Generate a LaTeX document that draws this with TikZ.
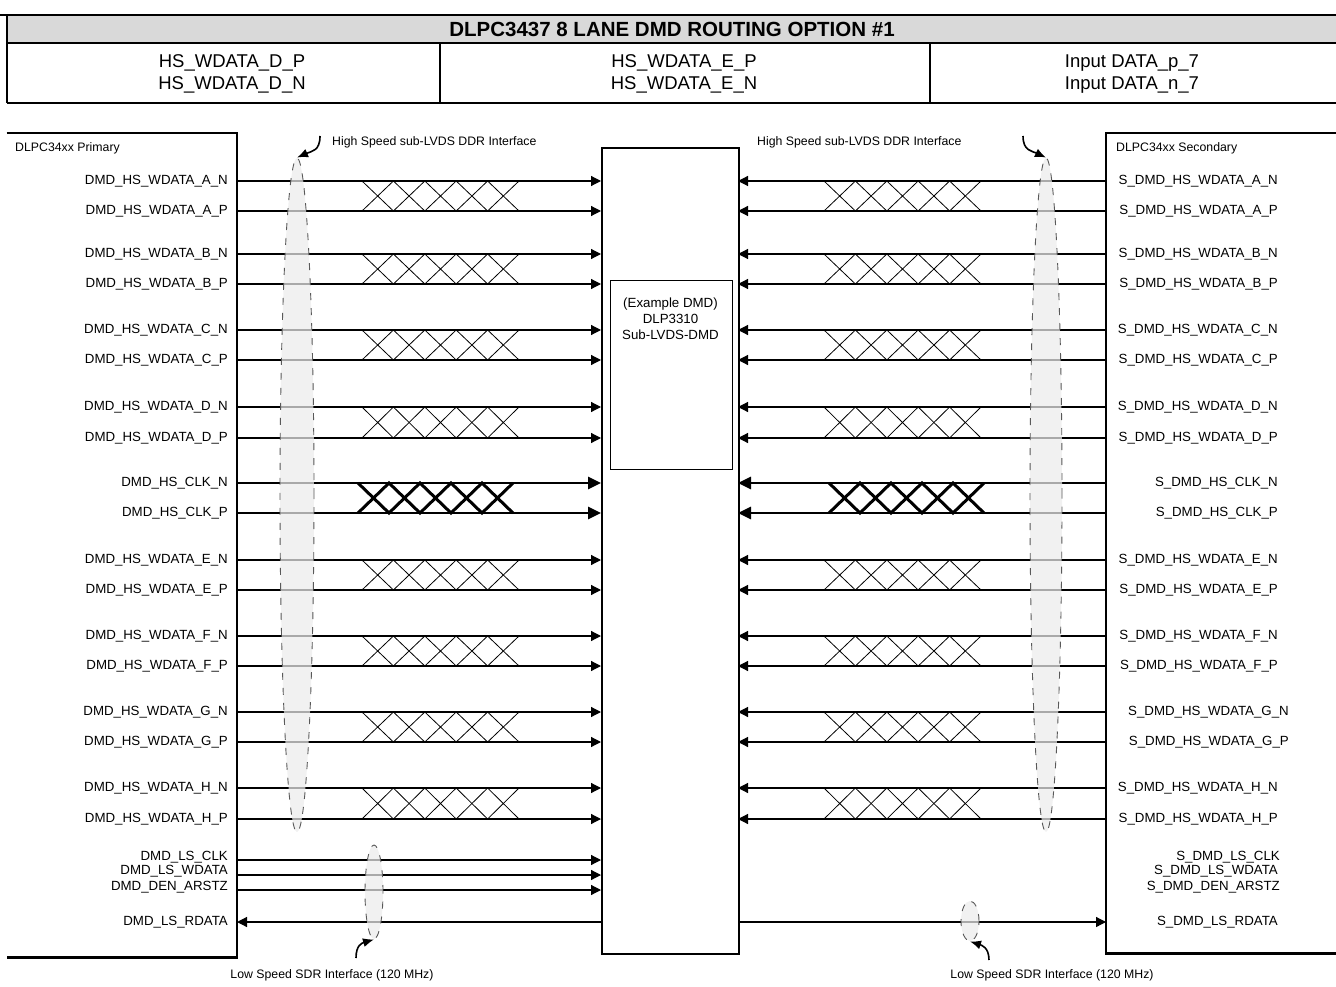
\documentclass[tikz,border=0pt]{standalone}
\usepackage{fontspec}
\setmainfont{Liberation Sans}
\usetikzlibrary{arrows.meta,shapes.geometric}
\newcommand\fsig{\fontsize{13.3}{15}\selectfont}
\newcommand\fsmall{\fontsize{12.3}{14}\selectfont}
\newcommand\fcell{\fontsize{18.5}{22}\selectfont}
\newcommand\fhead{\fontsize{20.5}{24}\selectfont\bfseries}
\begin{document}
\begin{tikzpicture}[x=1pt,y=-1pt,
  blockline/.style={line width=2.4pt},
  sig/.style={line width=1.2pt,-{Triangle[length=10pt,width=10pt]}},
  clk/.style={line width=2.8pt,-{Triangle[length=13pt,width=12pt]}},
  tw/.style={line width=0.8pt,line join=miter},
  twclk/.style={line width=3pt,line join=miter},
  siglab/.style={font=\fsig,inner sep=0pt},
  smalllab/.style={font=\fsmall,inner sep=0pt},
  bundle/.style={ellipse,draw=black!65,line width=0.9pt,dash pattern=on 7pt off 8pt,fill=black!8,fill opacity=0.72,inner sep=0pt},
  hook/.style={line width=1.6pt,-{Latex[length=11pt,width=9pt]}},
  tbl/.style={line width=1.2pt}]
\useasboundingbox (0,0) rectangle (1336,987);

% ---------- table ----------
\fill[black!15] (7,15) rectangle (1336,43);
\draw[tbl] (0,15) -- (1336,15);
\draw[tbl] (7,15) -- (7,103);
\draw[tbl] (7,43) -- (1336,43);
\draw[tbl] (440,43) -- (440,103);
\draw[tbl] (930,43) -- (930,103);
\draw[line width=2pt] (7,103) -- (1336,103);
\node[font=\fhead,inner sep=0pt] (thead) at (672,29) {DLPC3437 8 LANE DMD ROUTING OPTION \#1};
\node[font=\fcell,align=center,inner sep=0pt] (c1) at (232,74) {HS\_WDATA\_D\_P\\HS\_WDATA\_D\_N};
\node[font=\fcell,align=center,inner sep=0pt] (c2) at (684,74) {HS\_WDATA\_E\_P\\HS\_WDATA\_E\_N};
\node[font=\fcell,align=center,inner sep=0pt] (c3) at (1132,74) {Input DATA\_p\_7\\Input DATA\_n\_7};

% ---------- blocks ----------
\node[inner sep=0pt,minimum width=230pt,minimum height=824pt,anchor=north east] (prim) at (237,133) {};
\draw[blockline] (prim.north west) -- (prim.north east) -- (prim.south east) -- (prim.south west);
\node[smalllab,anchor=west] (primt) at (15,148) {DLPC34xx Primary};

\node[inner sep=0pt,minimum width=230pt,minimum height=820pt,anchor=north west] (sec) at (1106,133) {};
\draw[blockline] (sec.north east) -- (sec.north west) -- (sec.south west) -- (sec.south east);
\node[smalllab,anchor=west] (sect) at (1116,148) {DLPC34xx Secondary};

\node[draw,line width=2pt,inner sep=0pt,minimum width=137pt,minimum height=806pt,anchor=north west] (dmd) at (601,147) {};
\node[draw,line width=1pt,inner sep=0pt,minimum width=122pt,minimum height=189pt,anchor=north west] (inner) at (609.5,280) {};
\node[font=\fsig,align=center,inner sep=0pt,anchor=north] (dmdt) at (670.5,298) {(Example DMD)\\[1pt]DLP3310\\[1pt]Sub-LVDS-DMD};

% ---------- high speed pairs ----------
\foreach \ya/\yb/\L/\rx in {181/211/A/1278, 254/284/B/1278, 330/360/C/1278, 407/438/D/1278, 560/590/E/1278, 636/666/F/1278, 712/742/G/1289, 788/819/H/1278} {
  \coordinate (PL\L n) at (237,\ya);
  \coordinate (PL\L p) at (237,\yb);
  \coordinate (DL\L n) at (601,\ya);
  \coordinate (DL\L p) at (601,\yb);
  \coordinate (DR\L n) at (738,\ya);
  \coordinate (DR\L p) at (738,\yb);
  \coordinate (SR\L n) at (1106,\ya);
  \coordinate (SR\L p) at (1106,\yb);
  \draw[sig] (PL\L n) -- (DL\L n);
  \draw[sig] (PL\L p) -- (DL\L p);
  \draw[sig] (SR\L n) -- (DR\L n);
  \draw[sig] (SR\L p) -- (DR\L p);
  \draw[tw] (362,\ya) -- (393.4,\yb) -- (424.8,\ya) -- (456.2,\yb) -- (487.6,\ya) -- (519,\yb);
  \draw[tw] (362,\yb) -- (393.4,\ya) -- (424.8,\yb) -- (456.2,\ya) -- (487.6,\yb) -- (519,\ya);
  \draw[tw] (824,\ya) -- (855.4,\yb) -- (886.8,\ya) -- (918.2,\yb) -- (949.6,\ya) -- (981,\yb);
  \draw[tw] (824,\yb) -- (855.4,\ya) -- (886.8,\yb) -- (918.2,\ya) -- (949.6,\yb) -- (981,\ya);
  \node[siglab,anchor=east] at (228,\ya) {DMD\_HS\_WDATA\_\L\_N};
  \node[siglab,anchor=east] at (228,\yb) {DMD\_HS\_WDATA\_\L\_P};
  \node[siglab,anchor=east] at (\rx,\ya) {S\_DMD\_HS\_WDATA\_\L\_N};
  \node[siglab,anchor=east] at (\rx,\yb) {S\_DMD\_HS\_WDATA\_\L\_P};
}

% ---------- clock pair ----------
\coordinate (PLcn) at (237,483);
\coordinate (PLcp) at (237,513);
\coordinate (DLcn) at (601,483);
\coordinate (DLcp) at (601,513);
\coordinate (DRcn) at (738,483);
\coordinate (DRcp) at (738,513);
\coordinate (SRcn) at (1106,483);
\coordinate (SRcp) at (1106,513);
\draw[clk] (PLcn) -- (DLcn);
\draw[clk] (PLcp) -- (DLcp);
\draw[clk] (SRcn) -- (DRcn);
\draw[clk] (SRcp) -- (DRcp);
\draw[twclk] (358,483) -- (389,513) -- (420,483) -- (451,513) -- (482,483) -- (513,513);
\draw[twclk] (358,513) -- (389,483) -- (420,513) -- (451,483) -- (482,513) -- (513,483);
\draw[twclk] (829,483) -- (860,513) -- (891,483) -- (922,513) -- (953,483) -- (984,513);
\draw[twclk] (829,513) -- (860,483) -- (891,513) -- (922,483) -- (953,513) -- (984,483);
\node[siglab,anchor=east] at (228,483) {DMD\_HS\_CLK\_N};
\node[siglab,anchor=east] at (228,513) {DMD\_HS\_CLK\_P};
\node[siglab,anchor=east] at (1278,483) {S\_DMD\_HS\_CLK\_N};
\node[siglab,anchor=east] at (1278,513) {S\_DMD\_HS\_CLK\_P};

% ---------- low speed ----------
\coordinate (PLlc) at (237,860);
\coordinate (PLlw) at (237,875);
\coordinate (PLld) at (237,890);
\coordinate (PLlr) at (237,922);
\coordinate (DLlc) at (601,860);
\coordinate (DLlw) at (601,875);
\coordinate (DLld) at (601,890);
\coordinate (DLlr) at (601,922);
\coordinate (DRlr) at (738,922);
\coordinate (SRlr) at (1106,922);
\draw[sig] (PLlc) -- (DLlc);
\draw[sig] (PLlw) -- (DLlw);
\draw[sig] (PLld) -- (DLld);
\draw[sig] (DLlr) -- (PLlr);
\draw[sig] (DRlr) -- (SRlr);
\node[siglab,anchor=east] at (228,857) {DMD\_LS\_CLK};
\node[siglab,anchor=east] at (228,871) {DMD\_LS\_WDATA};
\node[siglab,anchor=east] at (228,887) {DMD\_DEN\_ARSTZ};
\node[siglab,anchor=east] at (228,922) {DMD\_LS\_RDATA};
\node[siglab,anchor=east] at (1280,857) {S\_DMD\_LS\_CLK};
\node[siglab,anchor=east] at (1278,871) {S\_DMD\_LS\_WDATA};
\node[siglab,anchor=east] at (1280,887) {S\_DMD\_DEN\_ARSTZ};
\node[siglab,anchor=east] at (1278,922) {S\_DMD\_LS\_RDATA};

% ---------- bundles ----------
\node[bundle,minimum width=34pt,minimum height=674pt] (hsL) at (297,495) {};
\node[bundle,minimum width=32pt,minimum height=674pt] (hsR) at (1046,495) {};
\node[bundle,minimum width=18pt,minimum height=94pt] (lsL) at (374,892) {};
\node[bundle,minimum width=18pt,minimum height=40pt] (lsR) at (970,921) {};

% ---------- hook arrows and labels ----------
\coordinate (hkL) at (320,136);
\coordinate (hkR) at (1023,136);
\coordinate (lkL) at (356,958);
\coordinate (lkR) at (989,960);
\draw[hook] (hkL) .. controls (320,151) and (312,151) .. (hsL.north);
\draw[hook] (hkR) .. controls (1023,151) and (1032,151) .. (hsR.north);
\draw[hook] (lkL) .. controls (356,945) and (362,943) .. (lsL.south);
\draw[hook] (lkR) .. controls (989,947) and (981,945) .. (lsR.south);
\node[smalllab,anchor=west] (hsLt) at (332,142) {High Speed sub-LVDS DDR Interface};
\node[smalllab,anchor=west] (hsRt) at (757,142) {High Speed sub-LVDS DDR Interface};
\node[smalllab] (lsLt) at (332,975) {Low Speed SDR Interface (120 MHz)};
\node[smalllab] (lsRt) at (1052,975) {Low Speed SDR Interface (120 MHz)};
\end{tikzpicture}
\end{document}
